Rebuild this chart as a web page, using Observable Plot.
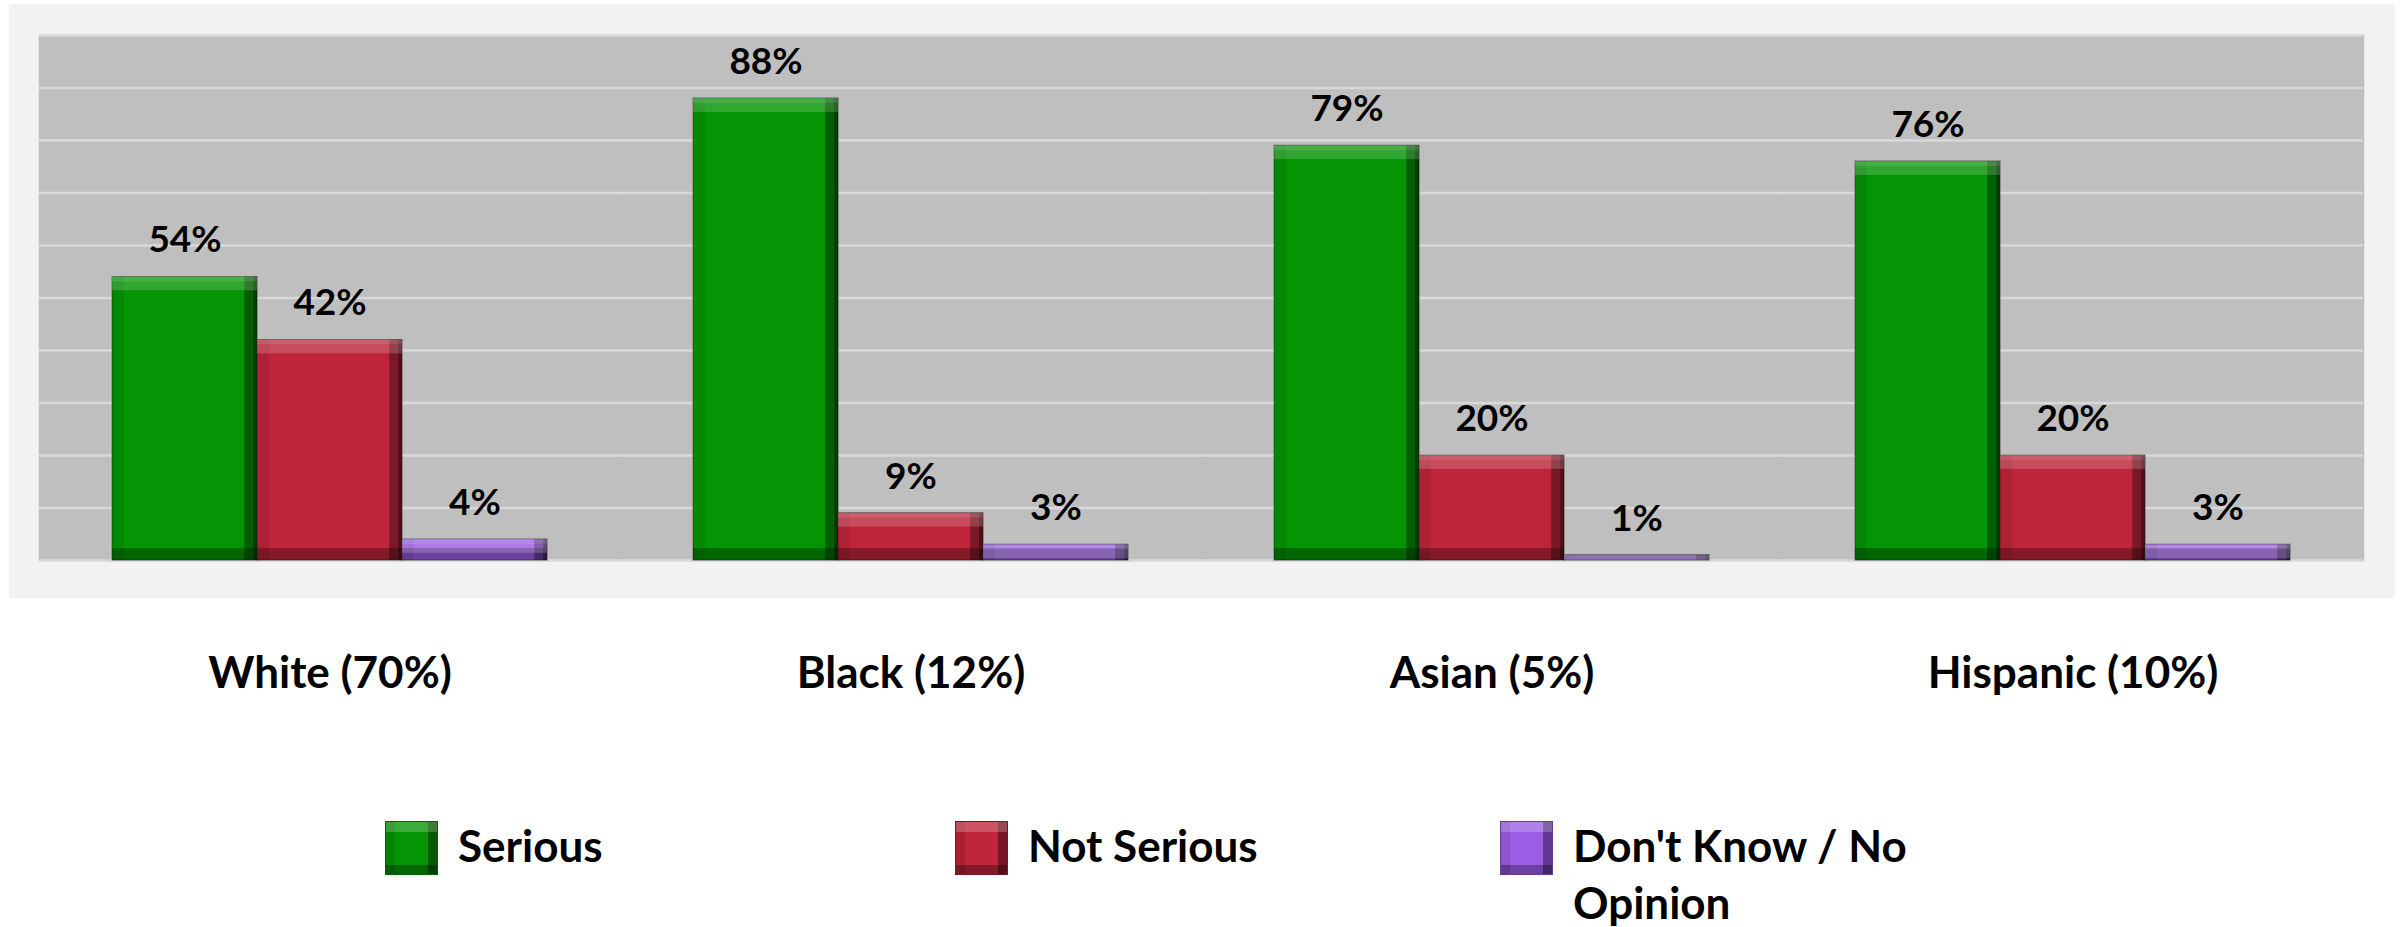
<!DOCTYPE html>
<html>
<head>
<meta charset="utf-8">
<script src="https://cdn.jsdelivr.net/npm/d3@7"></script>
<script src="https://cdn.jsdelivr.net/npm/@observablehq/plot@0.6"></script>
<style>
  html, body { margin: 0; padding: 0; background: #ffffff; }
  #wrap { position: relative; width: 2403px; height: 927px; overflow: hidden; background: #ffffff; font-family: Lato, "Open Sans", sans-serif; }
  #panel { position: absolute; left: 9px; top: 4px; width: 2386px; height: 594px; background: #f2f2f2; }
  #chart { position: absolute; left: 0; top: 0; }
  .lg-swatch { position: absolute; width: 53px; height: 54px; top: 821px; box-sizing: border-box; border: 1px solid rgba(0,0,0,0.35);
    box-shadow: inset 0 10px 0 rgba(255,255,255,0.22), inset -9px 0 0 rgba(0,0,0,0.38), inset 0 -9px 0 rgba(0,0,0,0.3), inset 9px 0 0 rgba(0,0,0,0.1); }
  .lg-text { position: absolute; top: 817px; width: 420px; font-size: 44px; font-weight: bold; line-height: 57px; color: #000; }
</style>
</head>
<body>
<div id="wrap">
  <div id="panel"></div>
  <div id="chart"></div>
  <div id="legend"></div>
</div>
<script>
// ---- data ----
const groups = ["White (70%)", "Black (12%)", "Asian (5%)", "Hispanic (10%)"];
const series = ["Serious", "Not Serious", "Don't Know / No Opinion"];
const serious = [54, 88, 79, 76];
const notSerious = [42, 9, 20, 20];
const dontKnow = [4, 3, 1, 3];
const colors = ["#049404", "#be253a", "#9b5de5"];
const yTicks = [0, 10, 20, 30, 40, 50, 60, 70, 80, 90, 100];

const valuesBySeries = [serious, notSerious, dontKnow];
const data = groups.flatMap((g, i) => series.map((s, j) => ({group: g, series: s, value: valuesBySeries[j][i]})));

const plot = Plot.plot({
  width: 2403,
  height: 720,
  marginTop: 35,
  marginBottom: 160,
  marginLeft: 39,
  marginRight: 40,
  style: {background: "transparent", fontFamily: "Lato, 'Open Sans', sans-serif", fontSize: "44px", fontWeight: "bold", color: "#000", overflow: "visible"},
  fx: {domain: groups, padding: 0, axis: "bottom", label: null, tickSize: 0, tickPadding: 96},
  x: {domain: series, axis: null, paddingInner: 0, paddingOuter: 0.5},
  y: {domain: [0, 100], axis: null},
  color: {domain: series, range: colors},
  marks: [
    Plot.frame({fill: "#bfbfbf", stroke: "#bfbfbf", strokeWidth: 1.5}),
    Plot.ruleY(yTicks, {stroke: "#d9d9d9", strokeWidth: 2.5}),
    Plot.barY(data, {fx: "group", x: "series", y: "value", fill: "series", stroke: "#000", strokeOpacity: 0.35, strokeWidth: 1}),
    Plot.text(data, {fx: "group", x: "series", y: "value", text: d => d.value + "%", dy: -36.5, fontSize: 37, fontWeight: "bold", fill: "#000"})
  ]
});

// bevel filter for the bars
const svgNS = "http://www.w3.org/2000/svg";
const defs = document.createElementNS(svgNS, "defs");
defs.innerHTML = `
<filter id="bevel" x="-2%" y="-2%" width="104%" height="104%" color-interpolation-filters="sRGB">
  <feOffset in="SourceAlpha" dy="14" result="oT"/>
  <feComposite in="SourceAlpha" in2="oT" operator="out" result="sT"/>
  <feOffset in="SourceAlpha" dy="5" result="oT2"/>
  <feComposite in="SourceAlpha" in2="oT2" operator="out" result="sT2"/>
  <feOffset in="SourceAlpha" dx="-13" result="oR"/>
  <feComposite in="SourceAlpha" in2="oR" operator="out" result="sR"/>
  <feOffset in="SourceAlpha" dx="-4" result="oR2"/>
  <feComposite in="SourceAlpha" in2="oR2" operator="out" result="sR2"/>
  <feOffset in="SourceAlpha" dy="-12" result="oB"/>
  <feComposite in="SourceAlpha" in2="oB" operator="out" result="sB"/>
  <feOffset in="SourceAlpha" dx="12" result="oL"/>
  <feComposite in="SourceAlpha" in2="oL" operator="out" result="sL"/>
  <feFlood flood-color="#000" flood-opacity="0.08"/><feComposite in2="sL" operator="in" result="cL"/>
  <feFlood flood-color="#000" flood-opacity="0.3"/><feComposite in2="sB" operator="in" result="cB"/>
  <feFlood flood-color="#000" flood-opacity="0.35"/><feComposite in2="sR" operator="in" result="cR"/>
  <feFlood flood-color="#000" flood-opacity="0.35"/><feComposite in2="sR2" operator="in" result="cR2"/>
  <feFlood flood-color="#fff" flood-opacity="0.18"/><feComposite in2="sT" operator="in" result="cT"/>
  <feFlood flood-color="#fff" flood-opacity="0.1"/><feComposite in2="sT2" operator="in" result="cT2"/>
  <feMerge>
    <feMergeNode in="SourceGraphic"/>
    <feMergeNode in="cL"/>
    <feMergeNode in="cB"/>
    <feMergeNode in="cR"/>
    <feMergeNode in="cR2"/>
    <feMergeNode in="cT"/>
    <feMergeNode in="cT2"/>
  </feMerge>
</filter>`;
plot.insertBefore(defs, plot.firstChild);
d3.select(plot).selectAll('g[aria-label="bar"] rect').attr("filter", "url(#bevel)");

document.getElementById("chart").appendChild(plot);

// legend
const legendX = [385, 955, 1500];
const legend = document.getElementById("legend");
series.forEach((s, i) => {
  const sw = document.createElement("div");
  sw.className = "lg-swatch";
  sw.style.left = legendX[i] + "px";
  sw.style.background = colors[i];
  legend.appendChild(sw);
  const t = document.createElement("div");
  t.className = "lg-text";
  t.style.left = (legendX[i] + 73) + "px";
  t.textContent = s;
  legend.appendChild(t);
});
</script>
</body>
</html>
